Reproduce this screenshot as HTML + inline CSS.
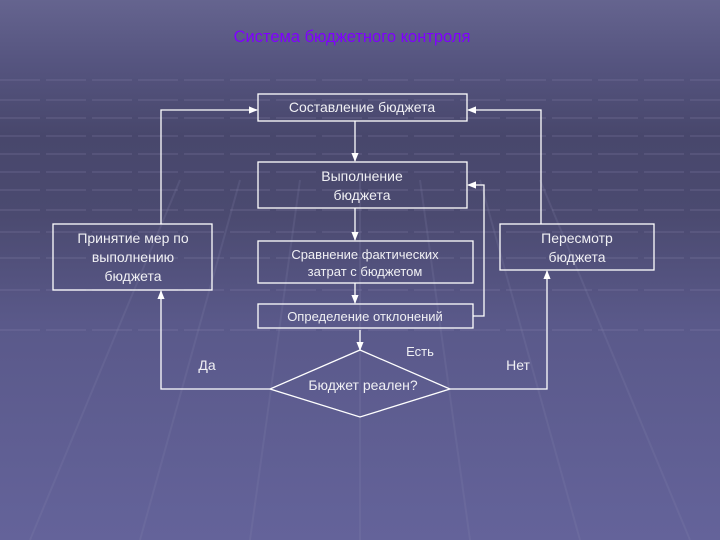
<!DOCTYPE html>
<html><head><meta charset="utf-8"><style>
html,body{margin:0;padding:0}
body{width:720px;height:540px;overflow:hidden;background:linear-gradient(#65648f 0%,#55547f 12%,#48476c 25%,#4b4a70 40%,#5a598a 60%,#64639a 100%);font-family:"Liberation Sans",sans-serif}
svg{position:absolute;left:0;top:0}
</style></head><body>
<svg width="720" height="540" xmlns="http://www.w3.org/2000/svg">
<defs><marker id="a" viewBox="0 0 10 10" refX="9" refY="5" markerWidth="7" markerHeight="7" orient="auto"><path d="M0,1L10,5L0,9z" fill="#fff"/></marker></defs>
<g stroke="#8a89b0" stroke-opacity="0.2" stroke-width="2" stroke-dasharray="40 6">
<line x1="0" y1="80" x2="720" y2="80"/><line x1="0" y1="100" x2="720" y2="100"/><line x1="0" y1="118" x2="720" y2="118"/><line x1="0" y1="136" x2="720" y2="136"/><line x1="0" y1="154" x2="720" y2="154"/><line x1="0" y1="172" x2="720" y2="172"/><line x1="0" y1="190" x2="720" y2="190"/><line x1="0" y1="210" x2="720" y2="210"/><line x1="0" y1="232" x2="720" y2="232"/><line x1="0" y1="258" x2="720" y2="258"/><line x1="0" y1="290" x2="720" y2="290"/><line x1="0" y1="330" x2="720" y2="330"/>
</g>
<g stroke="#8a89b0" stroke-opacity="0.18" stroke-width="2">
<line x1="360" y1="180" x2="360" y2="540"/><line x1="300" y1="180" x2="250" y2="540"/><line x1="420" y1="180" x2="470" y2="540"/><line x1="240" y1="180" x2="140" y2="540"/><line x1="480" y1="180" x2="580" y2="540"/><line x1="180" y1="180" x2="30" y2="540"/><line x1="540" y1="180" x2="690" y2="540"/>
</g>
<text x="352" y="42" text-anchor="middle" font-size="16.5" fill="#8000ff">Система бюджетного контроля</text>
<g fill="none" stroke="#fff" stroke-width="1.3">
<rect x="258" y="94" width="209" height="27"/>
<rect x="258" y="162" width="209" height="46"/>
<rect x="258" y="241" width="215" height="42"/>
<rect x="258" y="304" width="215" height="24"/>
<rect x="53" y="224" width="159" height="66"/>
<rect x="500" y="224" width="154" height="46"/>
<path d="M360,350L450,389L360,417L270,389Z"/>
<line x1="355" y1="121" x2="355" y2="161" marker-end="url(#a)"/>
<line x1="355" y1="208" x2="355" y2="240" marker-end="url(#a)"/>
<line x1="355" y1="283" x2="355" y2="303" marker-end="url(#a)"/>
<line x1="360" y1="330" x2="360" y2="350" marker-end="url(#a)"/>
<polyline points="270,389 161,389 161,291" marker-end="url(#a)"/>
<polyline points="161,224 161,110 257,110" marker-end="url(#a)"/>
<polyline points="450,389 547,389 547,271" marker-end="url(#a)"/>
<polyline points="541,224 541,110 468,110" marker-end="url(#a)"/>
<polyline points="473,316 484,316 484,185 468,185" marker-end="url(#a)"/>
</g>
<g fill="#f0f0f4" font-size="14" text-anchor="middle">
<text x="362" y="112">Составление бюджета</text>
<text x="362" y="181">Выполнение</text><text x="362" y="200">бюджета</text>
<text x="365" y="259" font-size="13">Сравнение фактических</text><text x="365" y="276" font-size="13">затрат с бюджетом</text>
<text x="365" y="321" font-size="13">Определение отклонений</text>
<text x="133" y="243">Принятие мер по</text><text x="133" y="262">выполнению</text><text x="133" y="281">бюджета</text>
<text x="577" y="243">Пересмотр</text><text x="577" y="262">бюджета</text>
<text x="363" y="390">Бюджет реален?</text>
<text x="207" y="370">Да</text><text x="420" y="356" font-size="13">Есть</text><text x="518" y="370">Нет</text>
</g>
</svg>
</body></html>
